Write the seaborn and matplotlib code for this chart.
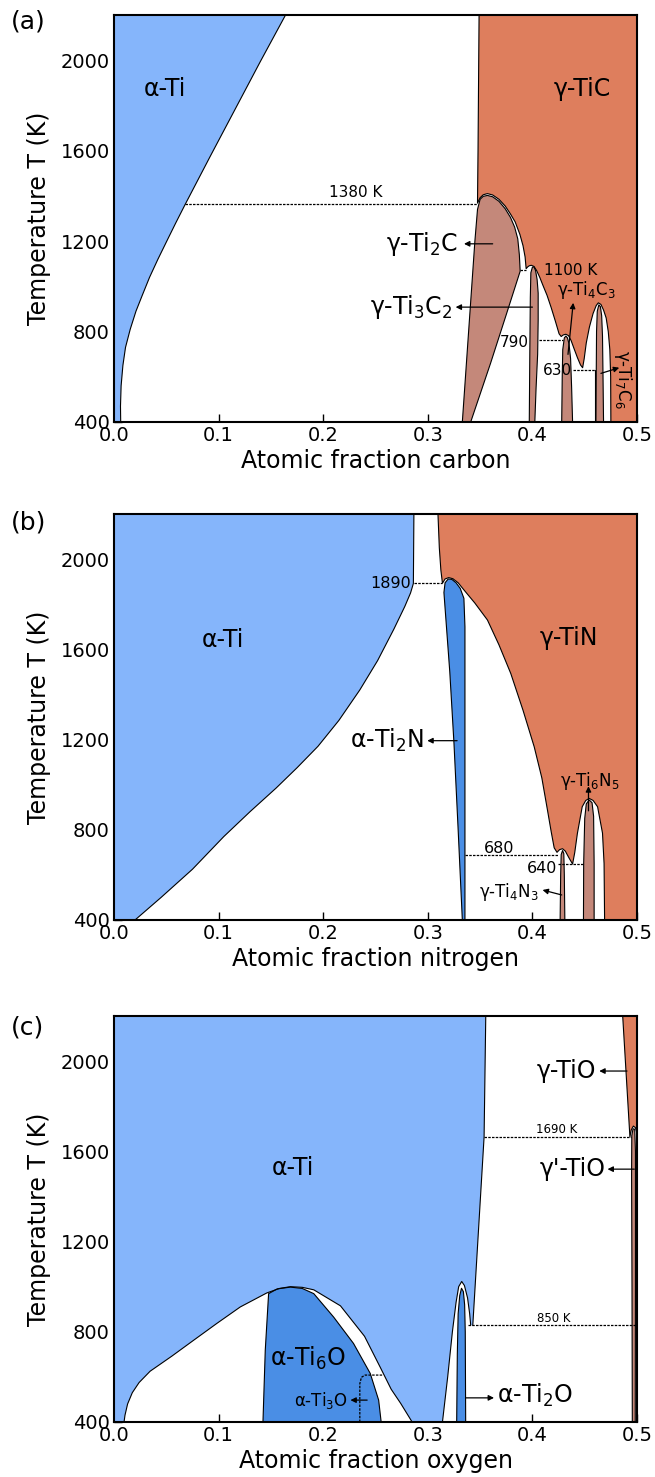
import matplotlib
matplotlib.use("Agg")
import matplotlib.pyplot as plt
import seaborn as sns

sns.set_style("ticks")
plt.rcParams['font.family'] = ['DejaVu Sans']
plt.rcParams['mathtext.fontset'] = 'dejavusans'
plt.rcParams['xtick.direction'] = 'in'
plt.rcParams['ytick.direction'] = 'in'
for k in ['text.color', 'axes.labelcolor', 'xtick.color', 'ytick.color', 'axes.edgecolor']:
    plt.rcParams[k] = 'black'

# ---------------- colours ----------------
C_ALPHA = "#85B5FB"
C_ALPHA2 = "#4A8EE5"
C_GAMMA = "#DE7E5D"
C_GAMMA2 = "#C4887A"

XTICKS = [0.0, 0.1, 0.2, 0.3, 0.4, 0.5]
YTICKS = [400, 800, 1200, 1600, 2000]
XLIM = (0.0, 0.5)
YLIM = (400, 2200)

# ================= panel (a) Ti-C =================
a_alpha_x = [0.0064, 0.0062, 0.0068, 0.0085, 0.011, 0.0155, 0.021, 0.027, 0.034, 0.042, 0.051, 0.059,
             0.068, 0.092, 0.116, 0.140, 0.164]
a_alpha_T = [400, 470, 560, 650, 730, 810, 890, 960, 1040, 1120, 1205, 1280,
             1362, 1575, 1785, 1995, 2200]

a_env_x = [0.349, 0.3485, 0.348, 0.3475, 0.350, 0.353, 0.357, 0.362, 0.368, 0.374, 0.379, 0.3835,
           0.388, 0.391, 0.393, 0.394, 0.3955, 0.397, 0.399, 0.4015, 0.404, 0.407, 0.410, 0.414,
           0.418, 0.422, 0.4255, 0.4275, 0.4295, 0.432, 0.4345, 0.437, 0.440, 0.443, 0.446, 0.448,
           0.4495, 0.4515, 0.4545, 0.458, 0.461, 0.463, 0.4655, 0.468, 0.4705, 0.4725, 0.474, 0.4748, 0.475]
a_env_T = [2200, 1900, 1600, 1368, 1392, 1405, 1410, 1404, 1385, 1355, 1320, 1285,
           1230, 1180, 1130, 1078, 1086, 1091, 1093, 1088, 1070, 1040, 1005, 960,
           905, 845, 790, 778, 785, 788, 782, 760, 722, 685, 652, 640,
           680, 750, 820, 880, 915, 927, 920, 895, 860, 800, 720, 600, 400]

a_ti2c_x = [0.333, 0.336, 0.339, 0.342, 0.345, 0.3475, 0.350, 0.353, 0.357, 0.362, 0.368, 0.374,
            0.379, 0.383, 0.386, 0.3875, 0.3883, 0.375, 0.360, 0.341]
a_ti2c_T = [400, 600, 800, 1000, 1200, 1340, 1385, 1398, 1402, 1396, 1376, 1343,
            1305, 1262, 1210, 1140, 1067, 875, 660, 400]

a_ti3c2_x = [0.397, 0.3975, 0.398, 0.3985, 0.400, 0.4015, 0.403, 0.4045, 0.4055, 0.4055, 0.405, 0.4035, 0.4023]
a_ti3c2_T = [400, 700, 950, 1060, 1085, 1086, 1070, 1030, 970, 850, 700, 550, 400]

a_ti4c3_x = [0.428, 0.4285, 0.429, 0.4305, 0.432, 0.4335, 0.435, 0.4365, 0.4375, 0.4384]
a_ti4c3_T = [400, 600, 720, 772, 780, 772, 745, 680, 550, 400]

a_ti7c6_x = [0.4607, 0.461, 0.4613, 0.462, 0.4635, 0.465, 0.4662, 0.467, 0.4675, 0.468]
a_ti7c6_T = [400, 600, 800, 890, 918, 910, 870, 780, 600, 400]

a_extra_x = [0.4595, 0.4595]
a_extra_T = [400, 628]

a_iso_T = [1365, 1070, 763, 628]
a_iso_x0 = [0.068, 0.3883, 0.406, 0.4384]
a_iso_x1 = [0.3475, 0.394, 0.4288, 0.4595]

# ================= panel (b) Ti-N =================
b_alpha_x = [0.0201, 0.045, 0.075, 0.105, 0.130, 0.155, 0.175, 0.195, 0.215, 0.235, 0.252,
             0.2676, 0.278, 0.2835, 0.2862, 0.2867]
b_alpha_T = [400, 500, 625, 770, 880, 985, 1075, 1170, 1285, 1420, 1550,
             1690, 1790, 1850, 1892, 2200]

b_env_x = [0.3097, 0.311, 0.3125, 0.314, 0.3165, 0.320, 0.324, 0.329, 0.3346, 0.345, 0.357, 0.368,
           0.3793, 0.391, 0.4017, 0.409, 0.4144, 0.418, 0.4208, 0.4235, 0.426, 0.4288, 0.4315,
           0.435, 0.4384, 0.4405, 0.443, 0.4476, 0.451, 0.4543, 0.458, 0.4623, 0.467, 0.4685, 0.469]
b_env_T = [2200, 2050, 1950, 1893, 1912, 1918, 1913, 1895, 1863, 1805, 1730, 1620,
           1493, 1330, 1168, 1030, 887, 790, 720, 700, 712, 716, 705,
           675, 648, 700, 784, 902, 930, 939, 930, 902, 785, 650, 400]

b_ti2n_x = [0.333, 0.329, 0.325, 0.321, 0.3175, 0.3154, 0.3165, 0.3195, 0.323, 0.327, 0.331, 0.3345, 0.3355, 0.3355]
b_ti2n_T = [400, 800, 1184, 1500, 1720, 1852, 1895, 1912, 1910, 1895, 1870, 1826, 1700, 400]

b_ti4n3_x = [0.4265, 0.427, 0.4275, 0.4288, 0.430, 0.4305, 0.431]
b_ti4n3_T = [400, 600, 690, 708, 695, 600, 400]

b_ti6n5_x = [0.4488, 0.449, 0.450, 0.4515, 0.4543, 0.457, 0.4585, 0.459, 0.459]
b_ti6n5_T = [400, 650, 850, 915, 932, 920, 860, 650, 400]

b_iso_T = [1893, 688, 648]
b_iso_x0 = [0.2867, 0.3355, 0.424]
b_iso_x1 = [0.314, 0.424, 0.448]

# ================= panel (c) Ti-O =================
c_alpha_x = [0.3554, 0.3538, 0.343]
c_alpha_T = [2200, 1664, 829]

c_dome_x = [0.341, 0.340, 0.338, 0.335, 0.3324, 0.3295, 0.327, 0.3235, 0.319, 0.314]
c_dome_T = [829, 880, 950, 1005, 1023, 1000, 930, 800, 600, 400]

c_outer_x = [0.0096, 0.0105, 0.013, 0.0175, 0.024, 0.0345, 0.0553, 0.076, 0.098, 0.1207, 0.146, 0.158, 0.1686,
             0.180, 0.191, 0.2165, 0.2395, 0.2548, 0.265, 0.274, 0.285]
c_outer_T = [400, 430, 480, 530, 575, 625, 692, 762, 836, 910, 972, 992, 1000,
             997, 986, 915, 780, 640, 545, 483, 400]

c_ti6o_x = [0.1424, 0.1446, 0.1478, 0.156, 0.1686, 0.180, 0.191, 0.210, 0.229, 0.245, 0.253, 0.2554]
c_ti6o_T = [400, 718, 969, 990, 998, 992, 969, 865, 748, 615, 497, 400]

c_ti3o_x = [0.235, 0.235, 0.2365, 0.240, 0.2564]
c_ti3o_T = [400, 570, 598, 608, 608]

c_ti2o_x = [0.3276, 0.3282, 0.329, 0.3305, 0.3322, 0.334, 0.3352, 0.3358, 0.3362]
c_ti2o_T = [400, 700, 880, 960, 993, 978, 920, 800, 400]

c_tio_x = [0.4863, 0.4999, 0.4999, 0.4985, 0.4965, 0.4945, 0.4932]
c_tio_T = [2200, 2200, 1680, 1705, 1712, 1695, 1664]

c_tio2_x = [0.4955, 0.4952, 0.4948, 0.4950, 0.4962, 0.4978, 0.4985, 0.4985, 0.4983]
c_tio2_T = [400, 1000, 1500, 1670, 1700, 1698, 1600, 1000, 400]

c_iso_T = [1664, 829]
c_iso_x0 = [0.3538, 0.338]
c_iso_x1 = [0.494, 0.499]


# ---------------- helpers ----------------
LW = 0.8


def line(ax, xs, ys, lw=LW, ls='-', color='k'):
    sns.lineplot(x=xs, y=ys, ax=ax, sort=False, estimator=None, color=color,
                 lw=lw, linestyle=ls)


def patch(ax, xs, ys, color, edge=True):
    ax.fill(xs, ys, color=color, lw=0, zorder=1)
    if edge:
        line(ax, list(xs) + [xs[0]], list(ys) + [ys[0]])


def iso(ax, T, x0, x1):
    line(ax, [x0, x1], [T, T], lw=0.9, ls=(0, (2, 1)))


def arrow(ax, tail, head):
    ax.annotate('', xy=head, xytext=tail,
                arrowprops=dict(arrowstyle='-|>', color='k', lw=0.9,
                                mutation_scale=8, shrinkA=0, shrinkB=0))


def setup(ax, xlabel):
    ax.set_xlim(*XLIM)
    ax.set_ylim(*YLIM)
    ax.set_xticks(XTICKS)
    ax.set_xticklabels([f"{v:.1f}" for v in XTICKS])
    ax.set_yticks(YTICKS)
    ax.set_yticklabels([str(v) for v in YTICKS])
    ax.tick_params(direction='in', length=6, width=1, labelsize=14, pad=3,
                   top=False, right=False, colors='black')
    for s in ax.spines.values():
        s.set_linewidth(1.5)
        s.set_color('k')
        s.set_zorder(10)
    ax.set_xlabel(xlabel, fontsize=17, labelpad=3, color='black')
    ax.set_ylabel("Temperature T (K)", fontsize=17, labelpad=7, color='black')


BIG = 17
SMALL = 12

fig = plt.figure(figsize=(6.55, 14.77), dpi=100)
L, W = 0.17405, 0.7985
ax_a = fig.add_axes([L, 0.71429, W, 0.27556])
ax_b = fig.add_axes([L, 0.37712, W, 0.27488])
ax_c = fig.add_axes([L, 0.03724, W, 0.27488])

# ---------------- panel (a) ----------------
ax = ax_a
patch(ax, [0.0] + a_alpha_x + [0.0], [400] + a_alpha_T + [2200], C_ALPHA)
patch(ax, a_env_x + [0.5, 0.5], a_env_T + [400, 2200], C_GAMMA)
for xs, ts in [(a_ti2c_x, a_ti2c_T), (a_ti3c2_x, a_ti3c2_T), (a_ti4c3_x, a_ti4c3_T), (a_ti7c6_x, a_ti7c6_T)]:
    patch(ax, xs, ts, C_GAMMA2)
line(ax, a_extra_x, a_extra_T)
for T, x0, x1 in zip(a_iso_T, a_iso_x0, a_iso_x1):
    iso(ax, T, x0, x1)
ax.text(0.049, 1872, "α-Ti", fontsize=BIG, ha='center', va='center')
ax.text(0.448, 1872, "γ-TiC", fontsize=BIG, ha='center', va='center')
ax.text(0.231, 1380, "1380 K", fontsize=11, ha='center', va='bottom')
ax.text(0.411, 1072, "1100 K", fontsize=11, ha='left', va='center')
ax.text(0.3963, 750, "790", fontsize=11, ha='right', va='center')
ax.text(0.438, 629, "630", fontsize=11, ha='right', va='center')
ax.text(0.329, 1185, "γ-Ti$_2$C", fontsize=BIG, ha='right', va='center')
arrow(ax, (0.362, 1188), (0.3346, 1188))
ax.text(0.3234, 908, "γ-Ti$_3$C$_2$", fontsize=BIG, ha='right', va='center')
arrow(ax, (0.400, 908), (0.3266, 908))
ax.text(0.452, 983, "γ-Ti$_4$C$_3$", fontsize=SMALL, ha='center', va='center')
arrow(ax, (0.434, 699), (0.439, 927))
ax.text(0.4865, 586, "γ-Ti$_7$C$_6$", fontsize=SMALL, ha='center', va='center', rotation=-90)
arrow(ax, (0.4655, 615), (0.483, 640))
setup(ax, "Atomic fraction carbon")

# ---------------- panel (b) ----------------
ax = ax_b
patch(ax, [0.0] + b_alpha_x + [0.0], [400] + b_alpha_T + [2200], C_ALPHA)
patch(ax, b_env_x + [0.5, 0.5], b_env_T + [400, 2200], C_GAMMA)
patch(ax, b_ti2n_x, b_ti2n_T, C_ALPHA2)
patch(ax, b_ti4n3_x, b_ti4n3_T, C_GAMMA2)
patch(ax, b_ti6n5_x, b_ti6n5_T, C_GAMMA2)
for T, x0, x1 in zip(b_iso_T, b_iso_x0, b_iso_x1):
    iso(ax, T, x0, x1)
ax.text(0.2835, 1893, "1890", fontsize=11.5, ha='right', va='center')
ax.text(0.368, 715, "680", fontsize=11.5, ha='center', va='center')
ax.text(0.4236, 630, "640", fontsize=11.5, ha='right', va='center')
ax.text(0.104, 1641, "α-Ti", fontsize=BIG, ha='center', va='center')
ax.text(0.435, 1649, "γ-TiN", fontsize=BIG, ha='center', va='center')
ax.text(0.2963, 1198, "α-Ti$_2$N", fontsize=BIG, ha='right', va='center')
arrow(ax, (0.328, 1195), (0.2995, 1195))
ax.text(0.455, 1016, "γ-Ti$_6$N$_5$", fontsize=SMALL, ha='center', va='center')
arrow(ax, (0.4536, 884), (0.4536, 993))
ax.text(0.4064, 523, "γ-Ti$_4$N$_3$", fontsize=SMALL, ha='right', va='center')
arrow(ax, (0.428, 511), (0.4097, 533))
setup(ax, "Atomic fraction nitrogen")

# ---------------- panel (c) ----------------
ax = ax_c
light_x = [0.0, c_alpha_x[0]] + c_alpha_x[1:] + c_dome_x + c_outer_x[::-1] + [0.0]
light_T = [2200, c_alpha_T[0]] + c_alpha_T[1:] + c_dome_T + c_outer_T[::-1] + [400]
ax.fill(light_x, light_T, color=C_ALPHA, lw=0, zorder=1)
line(ax, c_alpha_x, c_alpha_T)
line(ax, c_dome_x, c_dome_T)
line(ax, c_outer_x, c_outer_T)
patch(ax, c_ti6o_x, c_ti6o_T, C_ALPHA2)
patch(ax, c_ti2o_x, c_ti2o_T, C_ALPHA2)
patch(ax, c_tio_x, c_tio_T, C_GAMMA)
patch(ax, c_tio2_x, c_tio2_T, C_GAMMA2)
line(ax, c_ti3o_x, c_ti3o_T, lw=0.9, ls=(0, (2, 1)))
for T, x0, x1 in zip(c_iso_T, c_iso_x0, c_iso_x1):
    iso(ax, T, x0, x1)
ax.text(0.4234, 1698, "1690 K", fontsize=8.5, ha='center', va='center')
ax.text(0.4206, 858, "850 K", fontsize=8.5, ha='center', va='center')
ax.text(0.171, 1528, "α-Ti", fontsize=BIG, ha='center', va='center')
ax.text(0.185, 681, "α-Ti$_6$O", fontsize=BIG, ha='center', va='center')
ax.text(0.224, 497, "α-Ti$_3$O", fontsize=SMALL, ha='right', va='center')
arrow(ax, (0.242, 497), (0.226, 497))
ax.text(0.3666, 519, "α-Ti$_2$O", fontsize=BIG, ha='left', va='center')
arrow(ax, (0.3362, 507), (0.3633, 507))
ax.text(0.4607, 1956, "γ-TiO", fontsize=BIG, ha='right', va='center')
arrow(ax, (0.4904, 1956), (0.4639, 1956))
ax.text(0.4703, 1523, "γ'-TiO", fontsize=BIG, ha='right', va='center')
arrow(ax, (0.4974, 1521), (0.4718, 1521))
setup(ax, "Atomic fraction oxygen")

for lab, ypx in [("(a)", 22), ("(b)", 523), ("(c)", 1027)]:
    fig.text(11 / 655, 1 - ypx / 1477, lab, fontsize=18, ha='left', va='center', color='black')

fig.savefig("out.png", dpi=100)
